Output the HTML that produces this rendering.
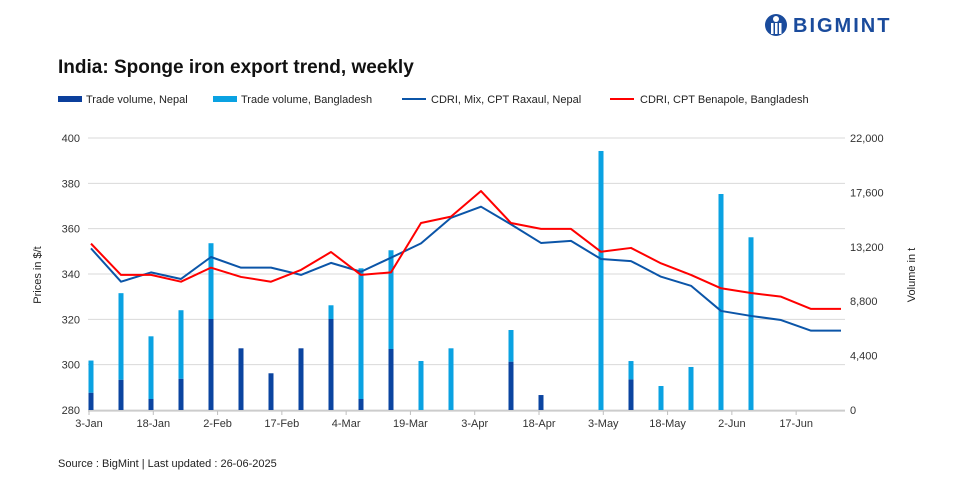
<!DOCTYPE html>
<html><head><meta charset="utf-8"><style>
body{margin:0;background:#fff;font-family:"Liberation Sans",Arial,sans-serif;}
#wrap{position:relative;width:960px;height:480px;overflow:hidden;}
</style></head><body>
<div id="wrap">
<svg id="chart" width="960" height="480" viewBox="0 0 960 480">
<g>
<circle cx="776" cy="25" r="11" fill="#1a4b9c"/>
<circle cx="776" cy="19" r="3" fill="#fff"/>
<rect x="771" y="23" width="2.5" height="11" fill="#fff"/><rect x="775" y="23" width="2.5" height="11" fill="#fff"/><rect x="779" y="23" width="2.5" height="11" fill="#fff"/>
<text x="793" y="32" font-size="20" font-weight="bold" fill="#1a4b9c" letter-spacing="2">BIGMINT</text>
</g>
<text x="58" y="73" font-size="19" font-weight="bold" fill="#111">India: Sponge iron export trend, weekly</text>
<g>
<g><rect x="58" y="96" width="24" height="6" fill="#0b3f9c"/><text x="86" y="103" font-size="11" fill="#222">Trade volume, Nepal</text></g>
<g><rect x="213" y="96" width="24" height="6" fill="#0aa2e2"/><text x="241" y="103" font-size="11" fill="#222">Trade volume, Bangladesh</text></g>
<g><line x1="402" y1="99" x2="426" y2="99" stroke="#0b55a8" stroke-width="2"/><text x="431" y="103" font-size="11" fill="#222">CDRI, Mix, CPT Raxaul, Nepal</text></g>
<g><line x1="610" y1="99" x2="634" y2="99" stroke="#f00" stroke-width="2"/><text x="640" y="103" font-size="11" fill="#222">CDRI, CPT Benapole, Bangladesh</text></g>
</g>
<text transform="translate(41,275) rotate(-90)" text-anchor="middle" font-size="11" fill="#222">Prices in $/t</text>
<text transform="translate(915,275) rotate(-90)" text-anchor="middle" font-size="11" fill="#222">Volume in t</text>
<text x="58" y="467" font-size="11" fill="#222">Source : BigMint | Last updated : 26-06-2025</text>
<g id="grid"></g><g id="bars"></g><g id="lines"></g><g id="axes"></g>
</svg>
</div>
<script>
const priceTicks=[280,300,320,340,360,380,400];
const volTicks=[0,4400,8800,13200,17600,22000];
const dateLabels=["3-Jan","18-Jan","2-Feb","17-Feb","4-Mar","19-Mar","3-Apr","18-Apr","3-May","18-May","2-Jun","17-Jun"];
const raxaul=[351.3,336.6,340.7,337.8,347.5,342.8,342.8,339.6,344.9,341.0,347.2,353.5,364.8,369.7,361.9,353.7,354.6,346.6,345.7,338.8,334.8,323.7,321.5,319.7,315.0,315.0];
const benapole=[353.4,339.6,339.6,336.6,342.8,338.7,336.6,341.8,349.7,339.6,340.7,362.5,365.3,376.6,362.5,359.9,359.9,349.8,351.5,344.7,339.6,333.7,331.6,330.0,324.6,324.6];
const nepalVol=[1400,2450,890,2530,7360,4990,2970,4990,7360,890,4935,0,0,0,3910,1210,0,0,2480,0,0,0,0,0,0,0];
const bdVol=[2600,7000,5070,5540,6130,0,0,0,1110,10570,7985,3964,4990,0,2560,0,0,20950,1480,1940,3480,17470,13970,0,0,0];

const NS="http://www.w3.org/2000/svg";
const L=88,R=845,T=138,B=410;
const x0=91,step=30;
function xi(i){return x0+i*step;}
function yP(v){return B-(v-280)/(400-280)*(B-T);}
function yV(v){return B-v/22000*(B-T);}
function mk(tag,attrs,parent){const e=document.createElementNS(NS,tag);for(const k in attrs)e.setAttribute(k,attrs[k]);parent.appendChild(e);return e;}
const grid=document.getElementById('grid'),bars=document.getElementById('bars'),lines=document.getElementById('lines'),axes=document.getElementById('axes');
priceTicks.forEach(v=>{
 const y=yP(v);
 const g=mk('line',{x1:L,x2:R,y1:y,y2:y,stroke:'#d9d9d9','stroke-width':1},grid);
 
 
 const t=mk('text',{x:80,y:y+4,'text-anchor':'end','font-size':11,fill:'#333'},axes);
 t.textContent=v;
 
 
});
volTicks.forEach(v=>{
 const t=mk('text',{x:850,y:yV(v)+4,'font-size':11,fill:'#333'},axes);
 t.textContent=v.toLocaleString('en-US');
 
 
});
const ax=mk('line',{x1:L,x2:R,y1:B+1,y2:B+1,stroke:'#bfbfbf'},axes);


dateLabels.forEach((d,k)=>{
 const x=x0+k*15/7*step-2;
 mk('line',{x1:x,x2:x,y1:B+1,y2:B+5,stroke:'#bfbfbf'},axes);
 const t=mk('text',{x:x,y:B+17,'text-anchor':'middle','font-size':11,fill:'#333'},axes);
 t.textContent=d;
 
 
});
nepalVol.forEach((n,i)=>{
 const b=bdVol[i];const x=xi(i)-2.5;
 if(n>0){const r=mk('rect',{x:x,y:yV(n),width:5,height:B-yV(n),fill:'#0b44a0'},bars);
  
  }
 if(b>0){const r=mk('rect',{x:x,y:yV(n+b),width:5,height:yV(n)-yV(n+b),fill:'#0aa2e2'},bars);
  
  }
});
function line(arr,col,name){
 const p=mk('polyline',{points:arr.map((v,i)=>xi(i)+','+yP(v)).join(' '),fill:'none',stroke:col,'stroke-width':2,'stroke-linejoin':'round'},lines);
 
 
}
line(raxaul,'#0b55a8','line-cdri-raxaul');
line(benapole,'#ff0000','line-cdri-benapole');
</script>
</body></html>
